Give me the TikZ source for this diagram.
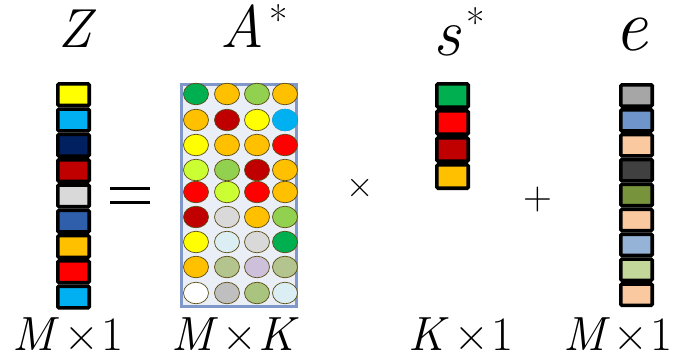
\documentclass[tikz,border=0pt]{standalone}
\usepackage{fontspec}
\usetikzlibrary{shapes.geometric}
\definecolor{cYel}{HTML}{FFFF00}
\definecolor{cSky}{HTML}{00B0F0}
\definecolor{cNavy}{HTML}{002060}
\definecolor{cDred}{HTML}{C00000}
\definecolor{cLgray}{HTML}{D9D9D9}
\definecolor{cBlue}{HTML}{2F5FAA}
\definecolor{cOra}{HTML}{FFC000}
\definecolor{cRed}{HTML}{FF0000}
\definecolor{cGreen}{HTML}{00B050}
\definecolor{cLgreen}{HTML}{92D050}
\definecolor{cYg}{HTML}{CCFF33}
\definecolor{cLcyan}{HTML}{DAEEF3}
\definecolor{cOlive}{HTML}{B3C48F}
\definecolor{cLav}{HTML}{CCC0DA}
\definecolor{cGray}{HTML}{BFBFBF}
\definecolor{cOl2}{HTML}{A9C47F}
\definecolor{cWhite}{HTML}{FFFFFF}
\definecolor{eGray}{HTML}{A6A6A6}
\definecolor{eBlue}{HTML}{6F93CB}
\definecolor{ePeach}{HTML}{FBC9A0}
\definecolor{eDark}{HTML}{404040}
\definecolor{eOlive}{HTML}{77933C}
\definecolor{eLblue}{HTML}{95B3D7}
\definecolor{eLgreen}{HTML}{C4D79B}
\definecolor{aBg}{HTML}{E9EEF7}
\definecolor{aBorder}{HTML}{7F97C9}
\definecolor{dotLine}{HTML}{5A4A10}
\begin{document}
\begin{tikzpicture}[x=1pt,y=-1pt,
  cellbox/.style={draw=black,line width=3.6pt,rounded corners=1.2pt,minimum width=31.4pt,inner sep=0pt,outer sep=0pt},
  dot/.style={ellipse,draw=dotLine,line width=0.7pt,minimum width=25pt,minimum height=21.5pt,inner sep=0pt},
  lab/.style={anchor=base,inner sep=0pt,text=black,text height=0.6em,text depth=0pt},
  dimlab/.style={lab,font=\fontsize{48}{48}\selectfont}]
\useasboundingbox (0,0) rectangle (677,362);
% Z column
\foreach \c [count=\i] in {cYel,cSky,cNavy,cDred,cLgray,cBlue,cOra,cRed,cSky}
  \node[cellbox,minimum height=21.7pt,fill=\c] (z\i) at (73.5,{82+25.3*(\i-0.5)}) {};
% s column
\foreach \c [count=\i] in {cGreen,cRed,cDred,cOra}
  \node[cellbox,minimum height=23.4pt,fill=\c] (s\i) at (452.5,{82+27*(\i-0.5)}) {};
% e column
\foreach \c [count=\i] in {eGray,eBlue,ePeach,eDark,eOlive,ePeach,eLblue,eLgreen,ePeach}
  \node[cellbox,minimum height=21.3pt,fill=\c] (e\i) at (636.5,{83+24.9*(\i-0.5)}) {};
% A matrix
\node[draw=aBorder,fill=aBg,line width=3pt,minimum width=115pt,minimum height=222pt,inner sep=0pt] (A) at (239,195.5) {};
\foreach \y/\ca/\cb/\cc/\cd [count=\r] in {
   94/cGreen/cOra/cLgreen/cOra,
  120/cOra/cDred/cYel/cSky,
  145/cYel/cOra/cOra/cRed,
  170/cYg/cLgreen/cDred/cOra,
  192/cRed/cYg/cRed/cOra,
  217/cDred/cLgray/cOra/cLgreen,
  242/cYel/cLcyan/cLgray/cGreen,
  267/cOra/cOlive/cLav/cOlive,
  293/cWhite/cGray/cOl2/cLcyan}{
  \node[dot,fill=\ca] (a\r-1) at (196,\y) {};
  \node[dot,fill=\cb] (a\r-2) at (227,\y) {};
  \node[dot,fill=\cc] (a\r-3) at (257,\y) {};
  \node[dot,fill=\cd] (a\r-4) at (285,\y) {};
}
\node[ellipse,fill=cSky,minimum width=25.8pt,minimum height=22.3pt,inner sep=0pt] (a2-4x) at (285,120) {};
% operators
\coordinate (eq1a) at (110,188); \coordinate (eq1b) at (150,188);
\coordinate (eq2a) at (110,202); \coordinate (eq2b) at (150,202);
\draw[line width=3pt] (eq1a) -- (eq1b);
\draw[line width=3pt] (eq2a) -- (eq2b);
\node[lab] (times) at (360,197) {\fontsize{38}{38}\selectfont ×};
\node[lab] (plus) at (538,209) {\fontsize{40}{40}\selectfont +};
% top labels
\node[lab] (Zl) at (75,47) {\fontsize{55}{55}\selectfont\itshape Z};
\node[lab] (Al) at (242,47) {\fontsize{60}{60}\selectfont\itshape A};
\node[lab] (Ast) at (278.5,34) {\fontsize{40}{40}\selectfont *};
\node[lab] (sl) at (447,55) {\fontsize{68}{68}\selectfont\itshape s};
\node[lab] (sst) at (476,37) {\fontsize{40}{40}\selectfont *};
\node[lab] (el) at (631,50) {\fontsize{74}{74}\selectfont\itshape e};
% bottom labels
\node[dimlab] (d1) at (68,350) {\itshape M\kern10pt\upshape ×\kern3pt 1};
\node[dimlab] (d2) at (233,350) {\itshape M\kern9pt\upshape ×\kern2pt\itshape K};
\node[dimlab] (d3) at (461,350) {\itshape K\kern10pt\upshape ×\kern3pt 1};
\node[dimlab] (d4) at (618,350) {\itshape M\kern8pt\upshape ×\kern2pt 1};
\end{tikzpicture}
\end{document}
